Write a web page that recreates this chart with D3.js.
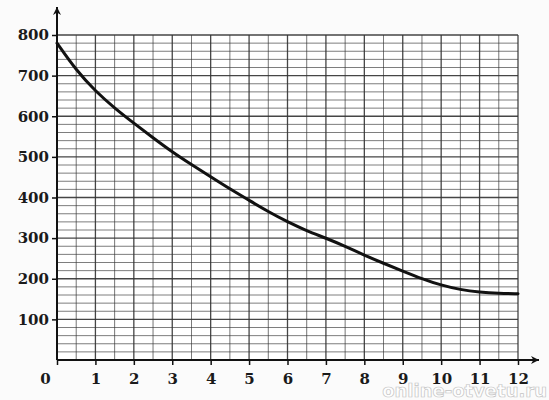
<!DOCTYPE html>
<html>
<head>
<meta charset="utf-8">
<script src="https://cdn.jsdelivr.net/npm/d3@7"></script>
<style>
  body { margin: 0; background: #fbfbfb; }
  svg { display: block; }
</style>
</head>
<body>
<svg id="chart"></svg>
<script>
/* curve, every half unit */
const xs = [0, 0.5, 1, 1.5, 2, 2.5, 3, 3.5, 4, 4.5, 5, 5.5, 6, 6.5, 7, 7.5, 8, 8.5, 9, 9.5, 10, 10.5, 11, 11.5, 12];
const ys = [780, 713, 662, 620, 583, 547, 512, 481, 451, 421, 393, 365, 340, 318, 300, 280, 258, 238, 219, 200, 184, 173, 167, 164, 163];
const xTicks = [0, 1, 2, 3, 4, 5, 6, 7, 8, 9, 10, 11, 12];
const yTicks = [100, 200, 300, 400, 500, 600, 700, 800];
const watermark = 'online-otvetu.ru';

let width = 549;
let height = 400;
let margin = { top: 35, right: 31, bottom: 40, left: 57 };

let svg = d3.select('#chart').attr('width', width).attr('height', height);

let x = d3.scaleLinear().domain([0, 12]).range([margin.left, width - margin.right]);
let y = d3.scaleLinear().domain([0, 800]).range([height - margin.bottom, margin.top]);

/* grid: half units across, 20 units up */
let grid = svg.append('g');
grid.append('rect')
    .attr('x', x(0)).attr('y', y(800))
    .attr('width', x(12) - x(0)).attr('height', y(0) - y(800))
    .attr('fill', '#fff');
grid.selectAll('line.v')
    .data(d3.range(0, 12.01, 0.5))
    .join('line')
    .attr('x1', d => x(d)).attr('x2', d => x(d))
    .attr('y1', y(0)).attr('y2', y(800))
    .attr('stroke', '#333')
    .attr('stroke-width', d => d % 1 === 0 ? 1.3 : 0.9)
    .attr('opacity', d => d % 1 === 0 ? 0.9 : 0.75);
grid.selectAll('line.h')
    .data(d3.range(0, 801, 20))
    .join('line')
    .attr('y1', d => y(d)).attr('y2', d => y(d))
    .attr('x1', x(0)).attr('x2', x(12))
    .attr('stroke', '#333')
    .attr('stroke-width', d => d % 100 === 0 ? 1.3 : 0.9)
    .attr('opacity', d => d % 100 === 0 ? 0.9 : 0.7);

/* axes with arrows */
svg.append('defs').append('marker')
    .attr('id', 'arrow')
    .attr('viewBox', '0 0 10 10')
    .attr('refX', 10).attr('refY', 5)
    .attr('markerWidth', 10).attr('markerHeight', 8)
    .attr('markerUnits', 'userSpaceOnUse')
    .attr('orient', 'auto')
    .append('path').attr('d', 'M0,0L10,5L0,10L3,5Z').attr('fill', '#111');

svg.append('line')
    .attr('x1', x(0)).attr('x2', 539)
    .attr('y1', y(0)).attr('y2', y(0))
    .attr('stroke', '#111').attr('stroke-width', 2)
    .attr('marker-end', 'url(#arrow)');
svg.append('line')
    .attr('x1', x(0)).attr('x2', x(0))
    .attr('y1', y(0)).attr('y2', 7)
    .attr('stroke', '#111').attr('stroke-width', 2)
    .attr('marker-end', 'url(#arrow)');

let font = "'DejaVu Serif', serif";

let xAxis = d3.axisBottom(x).tickValues(xTicks).tickSize(5).tickPadding(8);
let xG = svg.append('g')
    .attr('transform', `translate(0, ${y(0)})`)
    .call(xAxis);
xG.select('.domain').remove();
xG.selectAll('line').attr('stroke', '#111').attr('stroke-width', 1.5);
xG.selectAll('text')
    .attr('font-family', font).attr('font-size', 15).attr('font-weight', 'bold')
    .attr('fill', '#1a1a1a')
    .attr('dx', d => d === 0 ? -12 : 0);

let yAxis = d3.axisLeft(y).tickValues(yTicks).tickSize(5).tickPadding(3);
let yG = svg.append('g')
    .attr('transform', `translate(${x(0)}, 0)`)
    .call(yAxis);
yG.select('.domain').remove();
yG.selectAll('line').attr('stroke', '#111').attr('stroke-width', 1.5);
yG.selectAll('text')
    .attr('font-family', font).attr('font-size', 15).attr('font-weight', 'bold')
    .attr('fill', '#1a1a1a');

/* the curve */
let line = d3.line()
    .x((d, i) => x(xs[i]))
    .y(d => y(d))
    .curve(d3.curveBasis);
svg.append('path')
    .datum(ys)
    .attr('d', line)
    .attr('fill', 'none')
    .attr('stroke', '#111')
    .attr('stroke-width', 3)
    .attr('stroke-linecap', 'round');

/* watermark, faint as in the scan */
svg.append('text')
    .attr('x', 547).attr('y', 397)
    .attr('text-anchor', 'end')
    .attr('font-family', "'DejaVu Sans', sans-serif")
    .attr('font-size', 18)
    .attr('font-weight', 'bold')
    .attr('fill', '#fff')
    .attr('fill-opacity', 0.8)
    .attr('stroke', '#c4c4c4')
    .attr('stroke-width', 0.7)
    .text(watermark);
</script>
</body>
</html>
